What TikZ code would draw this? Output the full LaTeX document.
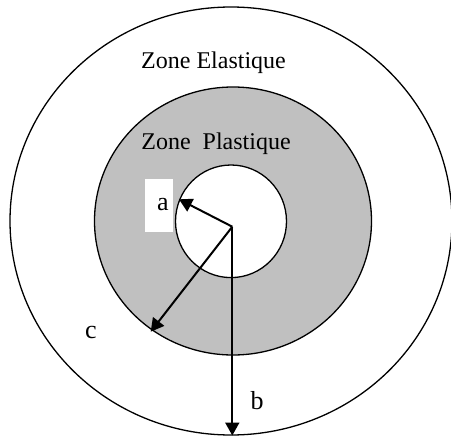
\documentclass[tikz,border=0pt]{standalone}
\usepackage{fontspec}
\setmainfont{Liberation Serif}
\usetikzlibrary{arrows.meta}
\definecolor{plastgray}{RGB}{192,192,192}
\tikzset{
  zone/.style={draw=black, line width=1.3pt},
  radius arrow/.style={line width=2pt, -{Triangle[length=13pt,width=14pt]}},
  lbl/.style={font=\fontsize{24}{28}\selectfont, inner sep=0pt},
  letter/.style={font=\fontsize{26}{30}\selectfont, inner sep=0pt},
}
\begin{document}
\begin{tikzpicture}[x=1pt,y=-1pt]
\useasboundingbox (0,0) rectangle (451,437);
\fill[white] (0,0) rectangle (451,437);
% outer (elastic) boundary
\draw[zone, fill=white] (231,221) ellipse [x radius=221, y radius=214];
% plastic zone
\draw[zone, fill=plastgray] (233,221) ellipse [x radius=138.5, y radius=134];
% hole
\draw[zone, fill=white] (231,221.3) ellipse [x radius=55.5, y radius=56.3];
% white patch behind a
\fill[white] (145,179) rectangle (172.7,232.3);
\node[lbl] (zel) at (213.5,63) {Zone Elastique};
\node[lbl] (zpl) at (216,144) {Zone\ \ Plastique};
\node[letter] (la) at (163,205) {a};
\node[letter] (lc) at (91,332) {c};
\node[letter] (lb) at (257,401) {b};
\coordinate (O) at (232.3,226.7);
\coordinate (A) at (179,199.3);
\coordinate (C) at (150.7,331.7);
\coordinate (B) at (232.3,435.5);
\draw[radius arrow] (O) -- (A);
\draw[radius arrow] (O) -- (C);
\draw[radius arrow] (O) -- (B);
\end{tikzpicture}
\end{document}
